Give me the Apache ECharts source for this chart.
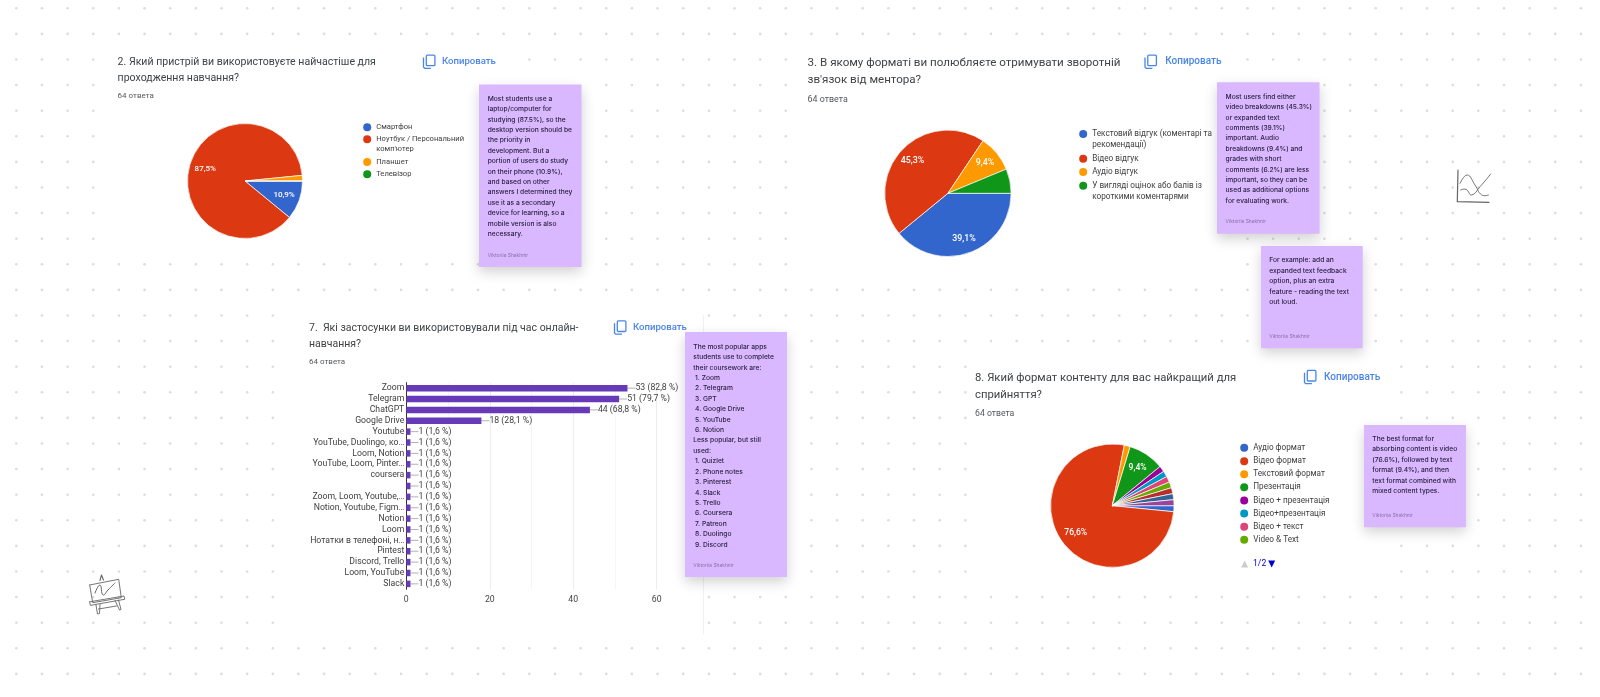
<!DOCTYPE html>
<html>
<head>
<meta charset="utf-8">
<title>Survey results</title>
<style>html,body{margin:0;padding:0;background:#fff}#chart{width:1600px;height:697px;filter:blur(0.4px)}</style>
<script src="https://cdn.jsdelivr.net/npm/echarts@6/dist/echarts.min.js"></script>
</head>
<body>
<div id="chart"></div>
<script>
// ---------- data ----------
const googleColors = ['#3366cc','#dc3912','#ff9900','#109618','#990099','#0099c6','#dd4477','#66aa00','#b82e2e','#316395','#994499'];

const q2Names = ['Смартфон','Ноутбук / Персональний комп\'ютер','Планшет','Телевізор'];
const q2Values = [7,56,1,0];
const q2Labels = ['10,9%','87,5%','',''];

const q3Names = ['Текстовий відгук (коментарі та рекомендації)','Відео відгук','Аудіо відгук','У вигляді оцінок або балів із короткими коментарями'];
const q3Values = [25,29,6,4];
const q3Labels = ['39,1%','45,3%','9,4%',''];

const q8Names = ['Аудіо формат','Відео формат','Текстовий формат','Презентація','Відео + презентація','Відео+презентація','Відео + текст','Video & Text','Варіант 9','Варіант 10','Варіант 11'];
const q8Values = [1,49,1,6,1,1,1,1,1,1,1];
const q8Labels = ['','76,6%','','9,4%','','','','','','',''];

const q7Categories = ['Zoom','Telegram','ChatGPT','Google Drive','Youtube','YouTube, Duolingo, ко…','Loom, Notion','YouTube, Loom, Pinter…','coursera',' ','Zoom, Loom, Youtube,…','Notion, Youtube, Figm…','Notion','Loom','Нотатки в телефоні, н…','Pintest','Discord, Trello','Loom, YouTube','Slack'];
const q7Values = [53,51,44,18,1,1,1,1,1,1,1,1,1,1,1,1,1,1,1];
const q7Percents = ['82,8','79,7','68,8','28,1','1,6','1,6','1,6','1,6','1,6','1,6','1,6','1,6','1,6','1,6','1,6','1,6','1,6','1,6','1,6'];
const q7Ticks = [0,20,40,60];

const answersText = '64 ответа';
const copyText = 'Копировать';
const authorText = 'Viktoriia Shakhnir';

const q2Title = ['2. Який пристрій ви використовуєте найчастіше для','проходження навчання?'];
const q3Title = ['3. В якому форматі ви полюбляєте отримувати зворотній','зв\'язок від ментора?'];
const q7Title = ['7.  Які застосунки ви використовували під час онлайн-','навчання?'];
const q8Title = ['8. Який формат контенту для вас найкращий для','сприйняття?'];

const note1 = ['Most students use a','laptop/computer for','studying (87.5%), so the','desktop version should be','the priority in','development. But a','portion of users do study','on their phone (10.9%),','and based on other','answers I determined they','use it as a secondary','device for learning, so a','mobile version is also','necessary.'];
const note2 = ['The most popular apps','students use to complete','their coursework are:',' 1. Zoom',' 2. Telegram',' 3. GPT',' 4. Google Drive',' 5. YouTube',' 6. Notion','Less popular, but still','used:',' 1. Quizlet',' 2. Phone notes',' 3. Pinterest',' 4. Slack',' 5. Trello',' 6. Coursera',' 7. Patreon',' 8. Duolingo',' 9. Discord'];
const note3 = ['Most users find either','video breakdowns (45.3%)','or expanded text','comments (39.1%)','important. Audio','breakdowns (9.4%) and','grades with short','comments (6.2%) are less','important, so they can be','used as additional options','for evaluating work.'];
const note4 = ['For example: add an','expanded text feedback','option, plus an extra','feature - reading the text','out loud.'];
const note5 = ['The best format for','absorbing content is video','(76.6%), followed by text','format (9.4%), and then','text format combined with','mixed content types.'];

// ---------- layout ----------
const ROBOTO = 'Roboto, sans-serif', INTER = 'Inter, sans-serif';
const masks = [[105,47,515,252],[285,305,703,635],[790,47,1235,278],[975,355,1392,585]];
const notes = [
  {box:[479,84.5,581.5,267],tx:487.7,ty:98.7,ay:255.3,lines:note1},
  {box:[685,332,787,577],tx:693.3,ty:346.7,ay:565.3,lines:note2},
  {box:[1217,82.3,1319.5,233.7],tx:1225.6,ty:96.7,ay:222,lines:note3},
  {box:[1261,246,1362.7,348.3],tx:1269.3,ty:260.3,ay:336.7,lines:note4},
  {box:[1364,425,1466,527.3],tx:1372.3,ty:439,ay:515.7,lines:note5}
];

const g = [];
// dotted canvas
function hidden(x,y){
  return masks.concat(notes.map(n=>n.box)).some(m=>x>m[0]&&x<m[2]&&y>m[1]&&y<m[3]);
}
for(let r=0;r<27;r++){
  for(let c=0;c<62;c++){
    const x=16.3+c*25.65, y=8.3+r*25.6;
    if(!hidden(x,y)) g.push({type:'circle',silent:true,shape:{cx:x,cy:y,r:1.3},style:{fill:'#dcdcdc'}});
  }
}
// faint edge of the pasted bar chart
g.push({type:'line',silent:true,shape:{x1:703.5,y1:315,x2:703.5,y2:634},style:{stroke:'#f1f1f1',lineWidth:1}});

function text(t,x,y,size,color,font,weight){
  g.push({type:'text',silent:true,x:x,y:y,style:{text:t,fill:color,fontSize:size,fontFamily:font||ROBOTO,fontWeight:weight||400,verticalAlign:'middle',align:'left'}});
}
function header(title,x,y1,y2,ySub,size,subSize,iconX,iconY,copyX,copySize){
  text(title[0],x,y1,size,'#3f4346');
  text(title[1],x,y2,size,'#3f4346');
  text(answersText,x,ySub,subSize,'#54585c');
  // copy icon
  g.push({type:'rect',silent:true,shape:{x:iconX+2.8,y:iconY-6.6,width:8.6,height:10.6,r:1},style:{fill:'#fff',stroke:'#4a86e8',lineWidth:1.3}});
  g.push({type:'polyline',silent:true,shape:{points:[[iconX,iconY-4.2],[iconX,iconY+5.4],[iconX+1.2,iconY+6.6],[iconX+7.4,iconY+6.6]]},style:{stroke:'#4a86e8',fill:null,lineWidth:1.3}});
  text(copyText,copyX,iconY,copySize,'#4a86e8',ROBOTO,500);
}
header(q2Title,117.6,62.7,78.3,96.3,10.55,8,423.5,61.7,442,9.6);
header(q3Title,807.6,62.7,80,99.7,11.6,8.9,1145,61.7,1165.3,10);
header(q7Title,309,328.7,344,362,10.5,8,614.5,327.5,633,9.6);
header(q8Title,975,378.3,395,414,11.3,8.7,1304.5,377,1324,10);

// sticky notes
notes.forEach(n=>{
  const b=n.box;
  g.push({type:'rect',silent:true,shape:{x:b[0],y:b[1],width:b[2]-b[0],height:b[3]-b[1]},style:{fill:'#d9b8ff',shadowBlur:12,shadowOffsetY:5,shadowColor:'rgba(0,0,0,0.18)'}});
  n.lines.forEach((l,i)=>text(l,n.tx,n.ty+i*10.42,6.7,'#2b2140',INTER,500));
  text(authorText,n.tx,n.ay,4.9,'#8a70a8',INTER);
});

// legend pager of question 8
g.push({type:'polygon',silent:true,shape:{points:[[1241.2,567.5],[1248.2,567.5],[1244.7,560.5]]},style:{fill:'#cccccc'}});
g.push({type:'polygon',silent:true,shape:{points:[[1268.2,560.5],[1275.2,560.5],[1271.7,567.5]]},style:{fill:'#0000cc'}});
text('1/2',1253,564,8.6,'#0000cc');

// hand-drawn stickers
function sketch(points,width,smooth){
  g.push({type:'polyline',silent:true,shape:{points:points,smooth:smooth||0},style:{stroke:'#666666',fill:null,lineWidth:width,lineCap:'round',lineJoin:'round'}});
}
sketch([[89.7,585],[118.7,579.3],[121.3,597.7],[92.7,602.7],[89.7,585]],0.9);
sketch([[100,580.5],[101.5,575],[103.5,580]],1.1);
sketch([[89.7,601.8],[124,596],[124.7,599.3],[90.3,605.4],[89.7,601.8]],0.9);
sketch([[96,605],[97.5,614],[99.5,613.5],[100,604.5]],0.9);
sketch([[115,600.5],[119.5,610],[121,609.5],[118.5,600]],0.9);
sketch([[98.5,609],[116.5,606]],0.9);
sketch([[95,593],[100,585],[103,595],[108,590],[115,583]],1,0.5);
sketch([[1458,170],[1457.3,201.7],[1489,202.3]],1.2);
sketch([[1460,183.5],[1467.3,175],[1475,185],[1481.7,195],[1488.5,195]],0.9,0.5);
sketch([[1460.7,190],[1466,189.3],[1471.7,195],[1480,186.7],[1490.7,174]],0.9,0.5);

// ---------- pies ----------
const LEG_W = 8;
function pieSeries(names,values,labels,cx,cy,r,fontSize,labelHole){
  const base = {type:'pie',center:[cx,cy],startAngle:0,clockwise:true,silent:true,animation:false};
  return [
    Object.assign({},base,{radius:[0,r],
      data:names.map((n,i)=>({name:n,value:values[i],itemStyle:{color:googleColors[i]}})),
      label:{show:false},labelLine:{show:false},
      itemStyle:{borderColor:'#fff',borderWidth:0.7}}),
    Object.assign({},base,{radius:[r*labelHole,r],
      data:names.map((n,i)=>({name:n,value:values[i]})),
      itemStyle:{color:'transparent'},labelLine:{show:false},avoidLabelOverlap:false,
      label:{show:true,position:'inside',color:'#fff',fontFamily:ROBOTO,fontSize:fontSize,fontWeight:500,
        formatter:p=>labels[p.dataIndex]}})
  ];
}
// one legend component per entry, since wrapped entries keep their bullet on the first line
function legendEntries(names,wrapped,ys,textX,size,lh){
  return names.map((n,i)=>{
    const two = wrapped[n];
    return {
      orient:'vertical',left:textX-LEG_W-4.5,top:ys[i]-(two?1.5:0.5)*lh,padding:0,itemGap:0,
      itemWidth:LEG_W,itemHeight:LEG_W,icon:'circle',selectedMode:false,
      itemStyle:{borderWidth:0},
      data:[n],
      formatter:name=>two?(' \n'+two):name,
      textStyle:{color:'#404040',fontFamily:ROBOTO,fontSize:size,lineHeight:lh}
    };
  });
}
const wrapQ2 = {[q2Names[1]]:'Ноутбук / Персональний\nкомп\'ютер'};
const wrapQ3 = {[q3Names[0]]:'Текстовий відгук (коментарі та\nрекомендації)',[q3Names[3]]:'У вигляді оцінок або балів із\nкороткими коментарями'};

const legends = [].concat(
  legendEntries(q2Names,wrapQ2,[127.3,139.3,162,174.3],375.7,7.6,10),
  legendEntries(q3Names,wrapQ3,[134,158.7,172,185.7],1091.7,8.2,11.3),
  legendEntries(q8Names.slice(0,8),{},[447.8,461.2,474.2,487.2,500.5,513.5,526.8,539.8],1252.7,8.2,11.3)
);

// ---------- bar chart ----------
const barSeries = {
  type:'bar',silent:true,animation:false,barWidth:6.5,
  data:q7Values,
  itemStyle:{color:'#673ab7'},
  label:{show:true,position:'right',distance:0,color:'#404040',fontFamily:ROBOTO,fontSize:8.7,padding:[4,0,0,0],
    formatter:p=>p.value+' ('+q7Percents[p.dataIndex]+' %)'},
  labelLayout:{dx:8},
  labelLine:{show:true,lineStyle:{color:'#9e9e9e',width:0.8}}
};

const option = {
  backgroundColor:'#ffffff',
  animation:false,
  legend:legends,
  grid:{left:406.3,top:382.7,width:250.4,height:206.6,containLabel:false},
  xAxis:{type:'value',min:q7Ticks[0],max:q7Ticks[q7Ticks.length-1],interval:20,
    axisLine:{show:false},axisTick:{show:false},
    axisLabel:{color:'#444',fontFamily:ROBOTO,fontSize:8.7,margin:6},
    splitLine:{show:true,lineStyle:{color:'#ececec',width:1}},
    minorTick:{show:false,splitNumber:2},
    minorSplitLine:{show:true,lineStyle:{color:'#f5f5f5',width:1}}},
  yAxis:{type:'category',inverse:true,data:q7Categories,
    axisLine:{show:true,onZero:false,lineStyle:{color:'#333',width:1}},axisTick:{show:false},
    axisLabel:{color:'#404040',fontFamily:ROBOTO,fontSize:8.7,margin:2,interval:0,hideOverlap:false,padding:[5,0,0,0]},
    splitLine:{show:false}},
  graphic:{elements:g},
  series:[].concat(
    pieSeries(q2Names,q2Values,q2Labels,245,181,57.5,8,0.34),
    pieSeries(q3Names,q3Values,q3Labels,947.9,193.3,63.2,8.8,0.42),
    pieSeries(q8Names,q8Values,q8Labels,1112.3,505.7,61.7,8.6,0.38),
    [barSeries]
  )
};
const chart = echarts.init(document.getElementById('chart'),null,{renderer:'canvas'});
chart.setOption(option);
</script>
</body>
</html>
